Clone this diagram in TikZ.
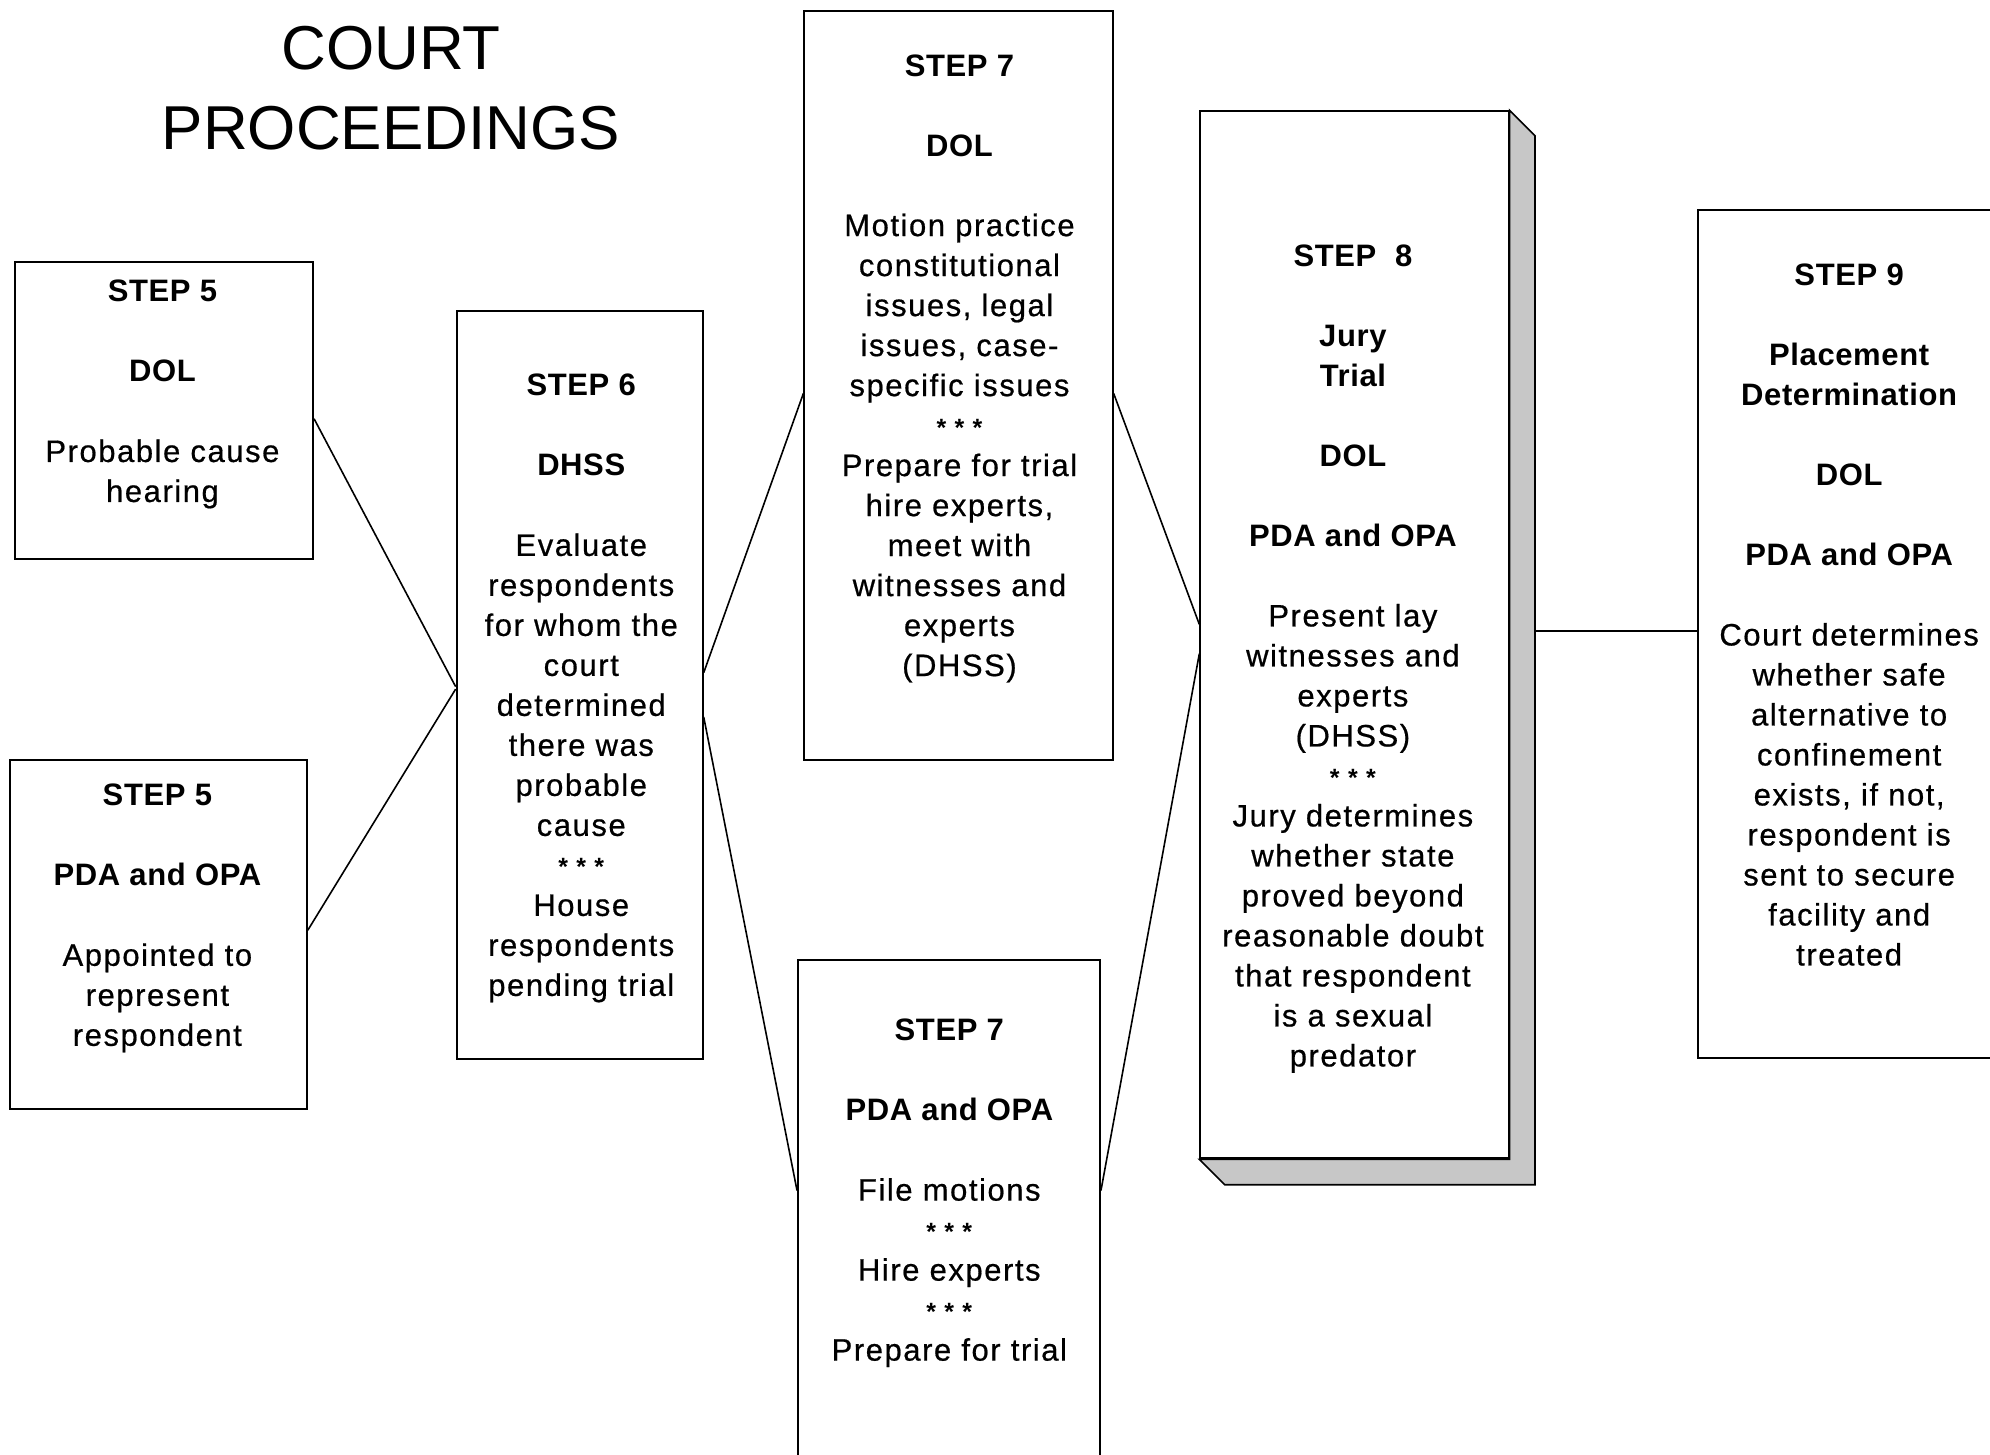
\documentclass[tikz,border=0pt]{standalone}
\usepackage{fontspec}
\usetikzlibrary{calc}
\setmainfont{Liberation Sans}
\newfontfamily\bodyfont[LetterSpace=5,FakeBold=0.6]{Liberation Sans}
\newfontfamily\headfont[LetterSpace=2]{Liberation Sans}
\newcommand\px{1.2691pt}
\newcommand\hdr[1]{{\headfont\bfseries #1}}
\newcommand\stars{{\headfont\bfseries\fontsize{25}{40}\selectfont *\,\,*\,\,*}}
\tikzset{
  box/.style={draw, line width=1.9pt, anchor=north west, inner sep=0pt},
  txt/.style={anchor=north, align=center, inner sep=0pt,
              font=\bodyfont\fontsize{31}{40}\selectfont},
  link/.style={line width=1.6pt},
  side3d/.style={draw, line width=1.6pt, fill=black!22}
}
\begin{document}
\begin{tikzpicture}[x=1.2691pt, y=-1.2691pt]
\useasboundingbox (0,0) rectangle (1568,1146);
\clip (0,0) rectangle (1568,1146);
\fill[white] (0,0) rectangle (1568,1146);

% title
\node[anchor=north, align=center, inner sep=0pt,
      font=\fontsize{62}{80}\selectfont] (title) at (308,10.4)
  {\strut COURT\\PROCEEDINGS};

% boxes
\node[box, minimum width=235*\px, minimum height=234*\px] (s5a) at (11,206) {};
\node[box, minimum width=234*\px, minimum height=275*\px] (s5b) at (7,598) {};
\node[box, minimum width=194*\px, minimum height=590*\px] (s6) at (359,244) {};
\node[box, minimum width=243*\px, minimum height=590*\px] (s7a) at (633,8) {};
\node[box, minimum width=238*\px, minimum height=420*\px] (s7b) at (628,756) {};
\node[box, minimum width=243*\px, minimum height=825*\px] (s8) at (945,87) {};
\node[box, minimum width=260*\px, minimum height=668*\px] (s9) at (1337,165) {};

% 3D side of step 8
\path[side3d] (s8.north east) -- ++(20,20) -- ($(s8.south east)+(20,20)$)
   -- ($(s8.south west)+(20,20)$) -- (s8.south west) -- (s8.south east) -- cycle;
\path ($(s8.east)+(20,0)$) coordinate (s8r);

% texts
\node[txt] (t5a) at (128,229-13.3)
  {\strut\hdr{STEP 5}\\[40pt]\hdr{DOL}\\[40pt]Probable cause\\hearing};
\node[txt] (t5b) at (124,626-13.3)
  {\strut\hdr{STEP 5}\\[40pt]\hdr{PDA and OPA}\\[40pt]Appointed to\\represent\\respondent};
\node[txt] (t6) at (458,303-13.3)
  {\strut\hdr{STEP 6}\\[40pt]\hdr{DHSS}\\[40pt]Evaluate\\respondents\\for whom the\\court\\determined\\there was\\probable\\cause\\\stars\\House\\respondents\\pending trial};
\node[txt] (t7a) at (756,51-13.3)
  {\strut\hdr{STEP 7}\\[40pt]\hdr{DOL}\\[40pt]Motion practice\\constitutional\\issues, legal\\issues, case-\\specific issues\\\stars\\Prepare for trial\\hire experts,\\meet with\\witnesses and\\experts\\(DHSS)};
\node[txt] (t7b) at (748,811-13.3)
  {\strut\hdr{STEP 7}\\[40pt]\hdr{PDA and OPA}\\[40pt]File motions\\\stars\\Hire experts\\\stars\\Prepare for trial};
\node[txt] (t8) at (1066,201-13.3)
  {\strut\hdr{STEP\hspace{0.6em}8}\\[40pt]\hdr{Jury}\\\hdr{Trial}\\[40pt]\hdr{DOL}\\[40pt]\hdr{PDA and OPA}\\[40pt]Present lay\\witnesses and\\experts\\(DHSS)\\\stars\\Jury determines\\whether state\\proved beyond\\reasonable doubt\\that respondent\\is a sexual\\predator};
\node[txt] (t9) at (1457,216-13.3)
  {\strut\hdr{STEP 9}\\[40pt]\hdr{Placement}\\\hdr{Determination}\\[40pt]\hdr{DOL}\\[40pt]\hdr{PDA and OPA}\\[40pt]Court determines\\whether safe\\alternative to\\confinement\\exists, if not,\\respondent is\\sent to secure\\facility and\\treated};

% connectors
\draw[link] (s5a.east |- 0,330) -- (s6.west |- 0,541);
\draw[link] (s5b.east |- 0,733) -- (s6.west |- 0,543);
\draw[link] (s6.east |- 0,530) -- (s7a.west |- 0,310);
\draw[link] (s6.east |- 0,565) -- (s7b.west |- 0,938);
\draw[link] (s7a.east |- 0,310) -- (s8.west |- 0,492);
\draw[link] (s7b.east |- 0,938) -- (s8.west |- 0,515);
\draw[link] (s8r |- 0,497) -- (s9.west |- 0,497);
\end{tikzpicture}
\end{document}
